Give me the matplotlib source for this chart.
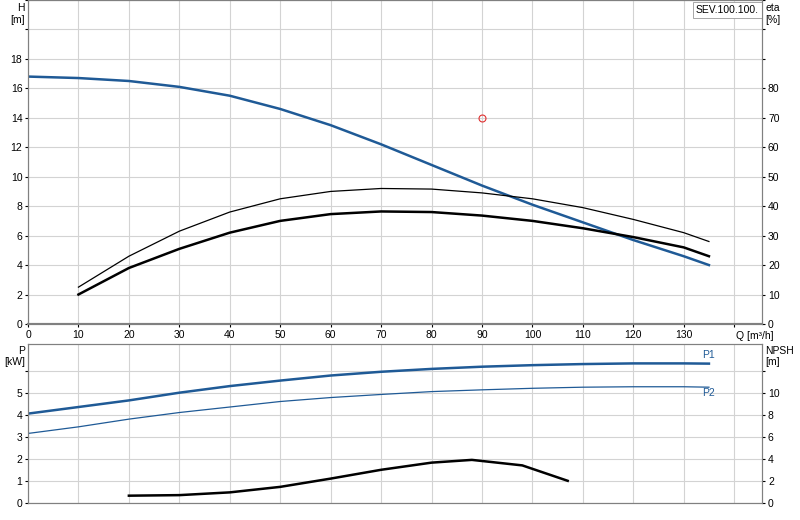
import matplotlib
matplotlib.use('Agg')
import matplotlib.pyplot as plt
import numpy as np

plt.rcParams['font.family'] = ['Liberation Sans', 'DejaVu Sans']
plt.rcParams['font.size'] = 7.5

#Data
q = [0, 10, 20, 30, 40, 50, 60, 70, 80, 90, 100, 110, 120, 130, 135]
head = [16.8, 16.7, 16.5, 16.1, 15.5, 14.6, 13.5, 12.2, 10.8, 9.4, 8.1, 6.9, 5.7, 4.6, 4.0]
q_eta = [10, 20, 30, 40, 50, 60, 70, 80, 90, 100, 110, 120, 130, 135]
eta_thick = [10, 19, 25.5, 31, 35, 37.3, 38.2, 38, 36.8, 35, 32.5, 29.5, 26, 23]
eta_thin = [12.5, 23, 31.5, 38, 42.5, 45, 46, 45.8, 44.5, 42.5, 39.5, 35.5, 31, 28]
p1 = [4.05, 4.35, 4.65, 5.0, 5.3, 5.55, 5.78, 5.95, 6.08, 6.18, 6.25, 6.3, 6.33, 6.33, 6.32]
p2 = [3.15, 3.45, 3.8, 4.1, 4.35, 4.6, 4.78, 4.92, 5.05, 5.13, 5.2, 5.25, 5.27, 5.27, 5.25]
q_npsh = [20, 30, 40, 50, 60, 70, 80, 88, 98, 107]
npsh = [0.65, 0.7, 0.95, 1.45, 2.2, 3.0, 3.65, 3.9, 3.4, 2.0]
duty_q, duty_h = 90, 14

blue = '#1f5a96'
grid = '#d3d3d3'
xmax = 145.6

fig = plt.figure(figsize=(8, 5.2), dpi=100)
ax = fig.add_axes([0.035, 0.377, 0.918, 0.623])
ax2 = fig.add_axes([0.035, 0.033, 0.918, 0.305])

#Top: head and efficiency
ax.plot(q, head, color=blue, lw=1.8)
ax.plot(duty_q, duty_h, 'o', mfc='none', mec='#e03030', ms=5, mew=0.8)
axr = ax.twinx()
axr.plot(q_eta, eta_thick, color='black', lw=1.8)
axr.plot(q_eta, eta_thin, color='black', lw=0.9)
ax.set_xlim(0, xmax)
ax.set_ylim(0, 22)
axr.set_ylim(0, 110)
ax.set_xticks(range(0, 141, 10))
ax.set_xticklabels([str(v) if v <= 130 else '' for v in range(0, 141, 10)])
ax.set_yticks(range(0, 23, 2))
ax.set_yticklabels([str(v) if v <= 18 else '' for v in range(0, 23, 2)])
axr.set_yticks(range(0, 111, 10))
axr.set_yticklabels([str(v) if v <= 80 else '' for v in range(0, 111, 10)])
ax.grid(True, color=grid, lw=0.8)
ax.text(-0.004, 0.99, 'H\n[m]', ha='right', va='top', transform=ax.transAxes)
axr.text(1.004, 0.99, 'eta\n[%]', ha='left', va='top', transform=axr.transAxes)
ax.text(140.3, -0.5, 'Q [m³/h]', ha='left', va='top')
ax.text(0.995, 0.985, 'SEV.100.100.', ha='right', va='top', transform=ax.transAxes,
        bbox=dict(boxstyle='square,pad=0.3', fc='white', ec='#999999', lw=0.6))
for a in (ax, axr):
    a.spines['bottom'].set_color('#808080')
    a.spines['bottom'].set_linewidth(1.5)
    for s in ('top', 'left', 'right'):
        a.spines[s].set_color('#808080')
        a.spines[s].set_linewidth(0.8)
    a.tick_params(length=2, pad=2)

#Bottom: power and NPSH
ax2.plot(q, p1, color=blue, lw=1.8)
ax2.plot(q, p2, color=blue, lw=0.9)
ax2r = ax2.twinx()
ax2r.plot(q_npsh, npsh, color='black', lw=1.8)
ax2.set_xlim(0, xmax)
ax2.set_ylim(0, 7.2)
ax2r.set_ylim(0, 14.4)
ax2.set_xticks(range(0, 141, 10))
ax2.set_xticklabels([])
ax2.set_yticks(range(0, 7))
ax2.set_yticklabels([str(v) if v <= 5 else '' for v in range(0, 7)])
ax2r.set_yticks(range(0, 13, 2))
ax2r.set_yticklabels([str(v) if v <= 10 else '' for v in range(0, 13, 2)])
ax2.grid(True, color=grid, lw=0.8)
ax2.text(135, 6.5, 'P1', color=blue, ha='center', va='bottom')
ax2.text(135, 5.2, 'P2', color=blue, ha='center', va='top')
ax2.text(-0.004, 0.99, 'P\n[kW]', ha='right', va='top', transform=ax2.transAxes)
ax2r.text(1.004, 0.99, 'NPSH\n[m]', ha='left', va='top', transform=ax2r.transAxes)
for a in (ax2, ax2r):
    for s in a.spines.values():
        s.set_color('#808080')
        s.set_linewidth(0.8)
    a.tick_params(length=2, pad=2)
    a.tick_params(axis='x', length=0)

fig.savefig('out.png', dpi=100)
